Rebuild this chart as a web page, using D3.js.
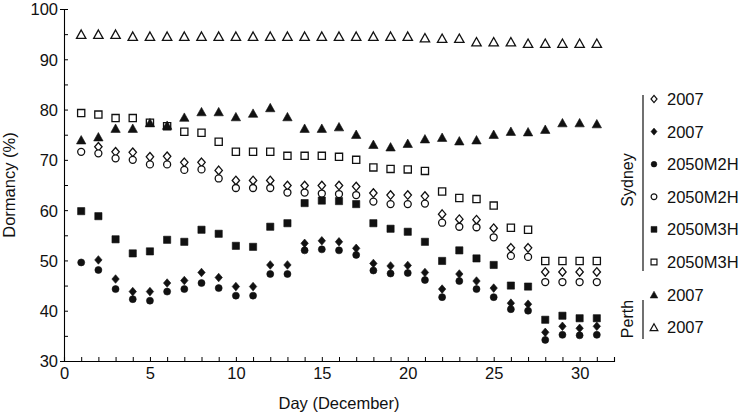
<!DOCTYPE html>
<html><head><meta charset="utf-8">
<script src="https://cdn.jsdelivr.net/npm/d3@7"></script>
<style>
html,body{margin:0;padding:0;background:#fff;}
svg{display:block;font-family:"Liberation Sans",Arial,Helvetica,sans-serif;}
</style></head>
<body><svg id="chart" width="740" height="413"></svg>
<script>
const days = d3.range(1, 32);
const xTicks = [0, 5, 10, 15, 20, 25, 30];
const yTicks = [30, 40, 50, 60, 70, 80, 90, 100];

const sydney2007Open = [null,72.6,71.6,71.5,70.6,70.7,69.5,69.5,67.9,65.9,65.9,65.9,64.9,64.9,64.9,64.9,64.7,63.4,63.0,63.0,62.8,59.2,58.2,58.1,56.4,52.5,52.5,47.7,47.7,47.7,47.7];
const sydney2007Filled = [null,50.1,46.3,43.8,43.8,45.5,46.0,47.6,46.6,44.8,44.8,49.1,49.1,53.4,53.9,53.7,52.4,49.4,48.9,49.0,47.6,44.3,47.3,45.9,44.5,41.5,41.3,35.7,36.9,36.5,36.9];
const m2hFilled = [49.6,48.1,44.3,42.3,42.0,43.8,44.3,45.5,44.5,43.0,43.0,47.3,47.3,52.0,52.2,52.0,51.1,48.0,47.4,47.5,46.1,42.7,45.9,44.3,42.7,40.3,40.0,34.2,35.2,35.1,35.2];
const m2hOpen = [71.6,71.3,70.3,70.0,69.1,69.1,68.0,68.1,66.3,64.4,64.4,64.4,63.5,63.5,63.3,63.2,63.0,61.7,61.2,61.2,61.3,57.5,56.7,56.6,54.6,50.9,50.7,45.7,45.7,45.7,45.7];
const m3hFilled = [59.8,58.8,54.2,51.4,51.8,54.1,53.7,56.1,55.3,52.9,52.7,56.7,57.4,61.4,61.9,61.8,61.2,57.4,56.3,55.7,53.7,49.9,52.0,50.4,49.1,45.0,44.8,38.2,39.0,38.5,38.5];
const m3hOpen = [79.3,79.0,78.3,78.3,77.4,76.7,75.6,75.4,73.6,71.6,71.6,71.6,70.8,70.8,70.8,70.6,70.0,68.5,68.2,68.1,67.8,63.7,62.4,62.2,60.9,56.5,56.1,49.9,49.9,49.9,49.9];
const perth2007Filled = [74.0,74.6,76.3,76.3,77.4,76.9,78.5,79.6,79.6,78.6,79.3,80.4,78.6,76.3,76.3,76.6,75.1,73.1,72.6,73.3,74.2,74.5,73.8,74.0,75.1,75.7,75.6,76.1,77.4,77.4,77.2];
const perth2007Open = [95.0,95.0,95.0,94.6,94.6,94.6,94.6,94.6,94.6,94.6,94.6,94.6,94.6,94.6,94.6,94.6,94.6,94.6,94.6,94.6,94.3,94.2,94.2,93.5,93.5,93.5,93.2,93.2,93.2,93.2,93.2];

const seriesNames = ["2007","2007","2050M2H","2050M2H","2050M3H","2050M3H","2007","2007"];
const seriesShapes = ["diamond","diamond","circle","circle","square","square","triangle","triangle"];
const seriesFilled = [false,true,true,false,true,false,true,false];
const seriesValues = [sydney2007Open,sydney2007Filled,m2hFilled,m2hOpen,m3hFilled,m3hOpen,perth2007Filled,perth2007Open];

const svg = d3.select("#chart");
const x = d3.scaleLinear().domain([0, 32]).range([64, 614]);
const y = d3.scaleLinear().domain([30, 100]).range([361, 9]);
const FS = 16.5;

function shapePath(shape, s) {
  if (shape === "diamond") { const w = 3.7*s, h = 4.3*s; return `M0,${-h}L${w},0L0,${h}L${-w},0Z`; }
  if (shape === "circle") { const r = 3.5*s; return `M${r},0A${r},${r} 0 1,1 ${-r},0A${r},${r} 0 1,1 ${r},0Z`; }
  if (shape === "square") { const a = 3.6*s; return `M${-a},${-a}H${a}V${a}H${-a}Z`; }
  if (shape === "triangle") { const w = 4.7*s, h = 4.2*s; return `M0,${-h}L${w},${h}L${-w},${h}Z`; }
}

// axes
const yAxis = d3.axisLeft(y).tickValues(d3.range(30, 101, 5)).tickSize(-4).tickPadding(6)
  .tickFormat(d => d % 10 === 0 ? d : "");
const gy = svg.append("g").attr("transform", `translate(64,0)`).call(yAxis);
const xAxis = d3.axisBottom(x).tickValues(d3.range(0, 33, 1)).tickSize(-4).tickPadding(6)
  .tickFormat(d => xTicks.includes(d) ? d : "");
const gx = svg.append("g").attr("transform", `translate(0,361)`).call(xAxis);
[gx, gy].forEach(g => {
  g.select(".domain").attr("stroke", "#000").attr("stroke-width", 1.1);
  g.selectAll(".tick line").attr("stroke", "#000").attr("stroke-width", 1);
  g.selectAll(".tick text").attr("font-size", FS).attr("fill", "#111").attr("font-family", "Liberation Sans, Arial, sans-serif");
});
gx.selectAll(".tick").filter(d => d === 0).select("line").remove();
gy.selectAll(".tick").filter(d => d === 30 || d === 100).select("line").attr("x2", -4);
gy.selectAll(".tick text").attr("dy", "0.36em");
gx.selectAll(".tick text").attr("dy", "0.73em");

svg.append("text").attr("x", 339).attr("y", 409).attr("text-anchor", "middle")
  .attr("font-size", FS).attr("fill", "#111").text("Day (December)");
svg.append("text").attr("transform", "translate(15,185) rotate(-90)").attr("text-anchor", "middle")
  .attr("font-size", FS).attr("fill", "#111").text("Dormancy (%)");

// marks
const plot = svg.append("g");
seriesValues.forEach((vals, i) => {
  plot.append("g").selectAll("path")
    .data(days.map((d, j) => [d, vals[j]]).filter(d => d[1] != null)).join("path")
    .attr("d", shapePath(seriesShapes[i], 1))
    .attr("transform", d => `translate(${x(d[0])},${y(d[1])})`)
    .attr("fill", seriesFilled[i] ? "#111" : "#fff")
    .attr("stroke", "#111").attr("stroke-width", seriesFilled[i] ? 0.6 : 1.3);
});

// legend
const legY0 = 99, legStep = 32.6;
const leg = svg.append("g");
seriesNames.forEach((name, i) => {
  const ly = legY0 + i * legStep;
  leg.append("path").attr("d", shapePath(seriesShapes[i], 0.82))
    .attr("transform", `translate(654,${ly})`)
    .attr("fill", seriesFilled[i] ? "#111" : "#fff")
    .attr("stroke", "#111").attr("stroke-width", seriesFilled[i] ? 0.5 : 1.2);
  leg.append("text").attr("x", 667).attr("y", ly).attr("dy", "0.36em")
    .attr("font-size", FS).attr("fill", "#111").text(name);
});
leg.append("line").attr("x1", 643).attr("x2", 643).attr("y1", 95).attr("y2", 271).attr("stroke", "#111").attr("stroke-width", 1.2);
leg.append("line").attr("x1", 643).attr("x2", 643).attr("y1", 300).attr("y2", 339).attr("stroke", "#111").attr("stroke-width", 1.2);
leg.append("text").attr("transform", "translate(633,180) rotate(-90)").attr("text-anchor", "middle")
  .attr("font-size", FS - 0.5).attr("fill", "#111").text("Sydney");
leg.append("text").attr("transform", "translate(633,319) rotate(-90)").attr("text-anchor", "middle")
  .attr("font-size", FS - 0.5).attr("fill", "#111").text("Perth");
</script></body></html>
